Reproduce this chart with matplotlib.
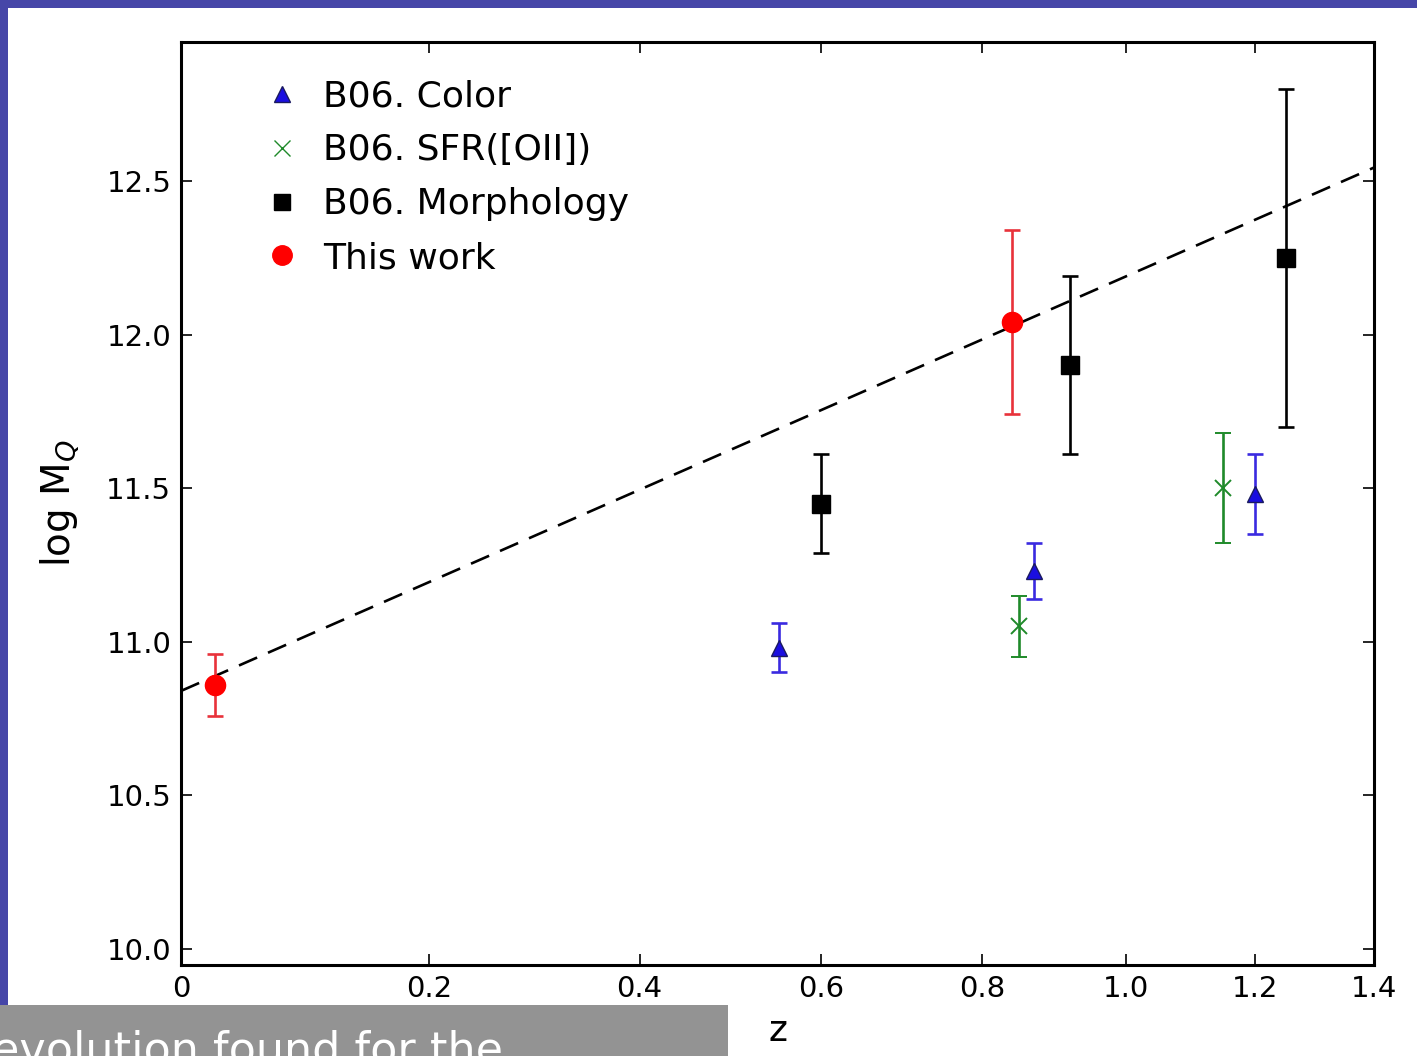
import numpy as np
import matplotlib
matplotlib.use("Agg")
import matplotlib.pyplot as plt
from matplotlib.lines import Line2D
from matplotlib.patches import Rectangle

# ---- data ----
color_z = [0.551, 0.870, 1.200]
color_m = [10.98, 11.23, 11.48]
color_e = [0.08, 0.09, 0.13]

sfr_z = [0.849, 1.148]
sfr_m = [11.05, 11.50]
sfr_e = [0.10, 0.18]

morph_z = [0.600, 0.920, 1.250]
morph_m = [11.45, 11.90, 12.25]
morph_e = [0.16, 0.29, 0.55]

this_z = [0.025, 0.840]
this_m = [10.86, 12.04]
this_e = [0.10, 0.30]

fit_intercept = 10.84   # log M_Q at z = 0
fit_slope = 4.48        # per unit log10(1+z)

xticks = [0, 0.2, 0.4, 0.6, 0.8, 1.0, 1.2, 1.4]
xticklabels = ["0", "0.2", "0.4", "0.6", "0.8", "1.0", "1.2", "1.4"]
yticks = [10.0, 10.5, 11.0, 11.5, 12.0, 12.5]
yticklabels = ["10.0", "10.5", "11.0", "11.5", "12.0", "12.5"]

W, H = 1417, 1056
fig = plt.figure(figsize=(W / 100, H / 100), dpi=100)
fig.patch.set_facecolor("white")

ax = fig.add_axes([181 / W, 1 - 965 / H, (1374 - 181) / W, (965 - 42) / H])

def fwd(z):
    z = np.asarray(z, dtype=float)
    return np.log10(1 + np.clip(z, -0.999, None))

def inv(x):
    return 10 ** np.asarray(x, dtype=float) - 1

ax.set_xscale("function", functions=(fwd, inv))
ax.set_xlim(0, 1.4)
ax.set_ylim(9.948, 12.952)

zf = np.linspace(0, 1.4, 200)
ax.plot(zf, fit_intercept + fit_slope * np.log10(1 + zf), color="black",
        lw=1.9, linestyle=(0, (7.5, 4.5)), zorder=2)

eb_kw = dict(linestyle="none", capsize=5.5, elinewidth=1.9, capthick=1.9, zorder=3)
ax.errorbar(color_z, color_m, yerr=color_e, marker="^", ms=12, mfc="#1a0ee0",
            mec="#1a1a60", ecolor="#3a2ae0", color="#1a0ee0", **eb_kw)
ax.errorbar(sfr_z, sfr_m, yerr=sfr_e, marker="x", ms=12, mew=1.4, mec="#1f8a2a",
            ecolor="#1f8a2a", color="#1f8a2a", **eb_kw)
ax.errorbar(morph_z, morph_m, yerr=morph_e, marker="s", ms=12.5, mfc="black",
            mec="black", ecolor="black", color="black", **eb_kw)
ax.errorbar(this_z, this_m, yerr=this_e, marker="o", ms=14.5, mfc="#ff0000",
            mec="#ff0000", ecolor="#e8323a", color="#ff0000", **eb_kw)

handles = [
    Line2D([], [], linestyle="none", marker="^", ms=12, mfc="#1a0ee0", mec="#1a1a60"),
    Line2D([], [], linestyle="none", marker="x", ms=12, mew=1.0, mec="#1f8a2a"),
    Line2D([], [], linestyle="none", marker="s", ms=11, mfc="black", mec="black"),
    Line2D([], [], linestyle="none", marker="o", ms=14, mfc="#ff0000", mec="#ff0000"),
]
labels = ["B06. Color", "B06. SFR([OII])", "B06. Morphology", "This work"]
ax.legend(handles, labels, loc="upper left", frameon=False, fontsize=26,
          handlelength=1.0, handletextpad=0.65, labelspacing=0.55,
          bbox_to_anchor=(0.057, 0.975), borderaxespad=0.0)

ax.set_xticks(xticks)
ax.set_xticklabels(xticklabels)
ax.set_yticks(yticks)
ax.set_yticklabels(yticklabels)
ax.minorticks_off()
ax.tick_params(direction="in", top=True, right=True, length=8, width=1.2,
               labelsize=21, pad=7)
for s in ax.spines.values():
    s.set_linewidth(2.2)

ax.set_xlabel("z", fontsize=26, labelpad=8)
ax.set_ylabel(r"log M$_Q$", fontsize=28, labelpad=18)

# slide decorations
blue = "#4646a8"
fig.patches.append(Rectangle((0, 1 - 8 / H), 1, 8 / H, transform=fig.transFigure,
                             facecolor=blue, edgecolor="none", zorder=10))
fig.patches.append(Rectangle((0, 0), 8 / W, 1, transform=fig.transFigure,
                             facecolor=blue, edgecolor="none", zorder=10))
fig.patches.append(Rectangle((0, 0), 728 / W, (1056 - 1005) / H, transform=fig.transFigure,
                             facecolor="#939393", edgecolor="none", zorder=11))
fig.text(-8 / W, -8 / H, "evolution found for the", color="white", fontsize=32,
         ha="left", va="baseline", zorder=12, family="DejaVu Sans")

fig.savefig("out.png", dpi=100)
